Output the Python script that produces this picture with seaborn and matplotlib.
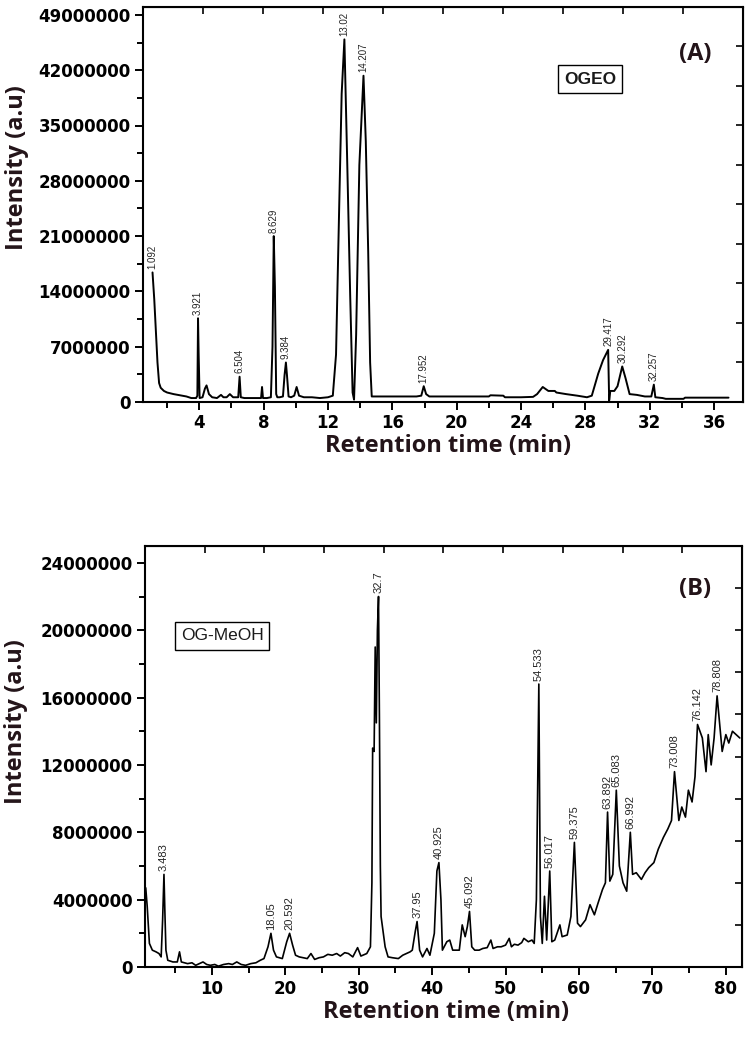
import matplotlib
matplotlib.use('Agg')
import numpy as np
import pandas as pd
import seaborn as sns
import matplotlib.pyplot as plt
from matplotlib.ticker import MultipleLocator, FuncFormatter

# (A) OGEO - retention time (min) and intensity (millions, a.u)
a_time = [1.092, 1.12, 1.2, 1.3, 1.4, 1.5, 1.6, 1.8, 2.0, 2.4, 2.8, 3.2, 3.5, 3.8, 3.88,
          3.921, 3.96, 4.02, 4.2, 4.35, 4.45, 4.6, 4.8, 5.1, 5.35, 5.5, 5.7, 5.9, 6.1, 6.42,
          6.504, 6.58, 6.8, 7.2, 7.6, 7.84, 7.9, 7.96, 8.2, 8.45, 8.55, 8.629, 8.7, 8.78, 8.85,
          9.0, 9.2, 9.3, 9.384, 9.45, 9.55, 9.7, 9.9, 10.05, 10.2, 10.5, 11.0, 11.5, 12.0, 12.3,
          12.5, 12.7, 12.85, 13.02, 13.2, 13.38, 13.53, 13.62, 13.75, 13.95, 14.207, 14.35, 14.5,
          14.62, 14.72, 15.5, 16.5, 17.5, 17.8, 17.952, 18.1, 18.3, 19.0, 20.0, 21.0, 22.0, 22.1,
          22.9, 23.0, 24.0, 24.75, 25.0, 25.35, 25.7, 26.1, 26.2, 26.8, 27.5, 28.1, 28.4, 28.8,
          29.1, 29.417, 29.48, 29.55, 29.8, 30.0, 30.292, 30.5, 30.75, 31.2, 31.7, 32.1, 32.257,
          32.35, 32.8, 33.0, 34.1, 34.2, 35.0, 36.0, 36.9]
a_int = [16.4, 15.5, 13.0, 9.0, 5.0, 2.4, 1.8, 1.4, 1.2, 1.0, 0.85, 0.7, 0.5, 0.5, 0.8,
         10.6, 6.0, 0.5, 0.6, 1.7, 2.1, 1.0, 0.6, 0.5, 0.9, 0.6, 0.6, 1.0, 0.6, 0.6,
         3.2, 0.6, 0.5, 0.5, 0.5, 0.5, 1.9, 0.5, 0.5, 0.6, 7.0, 21.0, 14.6, 1.0, 0.6,
         0.6, 0.7, 3.4, 5.0, 3.4, 0.7, 0.6, 0.8, 1.9, 0.8, 0.6, 0.6, 0.5, 0.6, 0.8,
         6.0, 25.0, 39.0, 45.9, 30.0, 13.5, 1.2, 0.3, 8.5, 30.0, 41.3, 33.0, 19.0,
         5.0, 0.7, 0.7, 0.7, 0.7, 0.8, 2.0, 1.0, 0.7, 0.7, 0.7, 0.7, 0.7, 0.85,
         0.8, 0.6, 0.6, 0.65, 1.0, 1.9, 1.4, 1.4, 1.2, 1.0, 0.8, 0.6, 0.8, 3.6,
         5.3, 6.6, 0.2, 1.4, 1.4, 2.0, 4.5, 3.0, 1.0, 0.9, 0.7, 0.7, 2.2,
         0.6, 0.5, 0.4, 0.4, 0.55, 0.55, 0.55, 0.55]
a_peaks = [1.092, 3.921, 6.504, 8.629, 9.384, 13.02, 14.207, 17.952, 29.417, 30.292, 32.257]

# (B) OG-MeOH
b_time = [1.0, 1.2, 1.35, 1.5, 1.9, 2.4, 2.8, 3.1, 3.3, 3.483, 3.6, 3.75, 4.0, 4.7, 5.3,
          5.6, 5.85, 6.7, 7.3, 7.8, 8.3, 8.8, 9.3, 9.8, 10.4, 10.9, 11.6, 12.3, 12.8, 13.4,
          14.0, 14.6, 15.3, 16.0, 16.6, 17.1, 17.65, 18.05, 18.4, 18.8, 19.6, 20.2, 20.592,
          21.0, 21.4, 21.9, 23.0, 23.5, 24.0, 24.6, 25.2, 25.8, 26.4, 27.0, 27.5, 28.1, 28.6,
          29.2, 29.85, 30.3, 31.1, 31.6, 31.8, 31.9, 32.1, 32.25, 32.4, 32.55, 32.7, 32.82,
          32.95, 33.05, 33.3, 33.6, 34.0, 34.6, 35.4, 36.0, 36.5, 37.0, 37.3, 37.7, 37.95,
          38.3, 38.7, 39.3, 39.7, 40.3, 40.65, 40.925, 41.2, 41.4, 42.0, 42.4, 42.8, 43.7,
          44.1, 44.5, 44.8, 45.092, 45.4, 45.8, 46.4, 46.9, 47.5, 48.0, 48.3, 48.9, 49.4,
          50.0, 50.5, 50.8, 51.2, 51.7, 52.2, 52.5, 53.1, 53.6, 53.9, 54.2, 54.533, 54.75,
          55.0, 55.3, 55.6, 56.017, 56.3, 56.7, 57.4, 57.7, 58.4, 58.9, 59.375, 59.8, 60.2,
          60.9, 61.5, 62.1, 62.6, 63.2, 63.6, 63.892, 64.2, 64.6, 65.083, 65.5, 66.0, 66.5,
          66.992, 67.3, 67.8, 68.5, 69.0, 69.5, 70.2, 70.8, 71.5, 72.1, 72.6, 73.008, 73.6,
          74.0, 74.5, 74.9, 75.4, 75.8, 76.142, 76.8, 77.3, 77.6, 78.0, 78.4, 78.808, 79.5,
          80.0, 80.4, 80.9, 81.4, 81.9]
b_int = [4.7, 3.6, 2.5, 1.4, 1.0, 0.9, 0.8, 0.6, 2.8, 5.5, 3.4, 1.0, 0.4, 0.3, 0.3,
         0.9, 0.3, 0.2, 0.25, 0.1, 0.2, 0.3, 0.15, 0.1, 0.15, 0.05, 0.15, 0.2, 0.15, 0.3,
         0.15, 0.1, 0.2, 0.25, 0.4, 0.5, 1.2, 2.0, 1.0, 0.6, 0.5, 1.5, 2.0,
         1.3, 0.7, 0.6, 0.5, 0.8, 0.45, 0.55, 0.6, 0.75, 0.7, 0.8, 0.65, 0.85, 0.8,
         0.6, 1.15, 0.65, 0.8, 1.2, 5.0, 13.0, 12.8, 19.0, 14.5, 20.0, 22.0, 15.0,
         6.0, 3.0, 2.2, 1.2, 0.6, 0.55, 0.5, 0.7, 0.8, 0.9, 1.0, 2.1, 2.7,
         1.0, 0.6, 1.1, 0.7, 2.0, 5.7, 6.2, 4.0, 1.0, 1.5, 1.6, 1.0, 1.0,
         2.5, 1.8, 2.4, 3.3, 1.2, 1.0, 1.0, 1.1, 1.15, 1.6, 1.1, 1.2, 1.2,
         1.3, 1.7, 1.2, 1.35, 1.3, 1.45, 1.7, 1.5, 1.6, 1.4, 4.0, 16.8, 3.0,
         1.4, 4.2, 1.6, 5.7, 1.5, 1.6, 2.5, 1.8, 1.9, 3.0, 7.4, 2.6, 2.4,
         2.8, 3.7, 3.1, 3.8, 4.6, 5.0, 9.2, 5.1, 5.5, 10.5, 6.0, 5.0, 4.5,
         8.0, 5.5, 5.6, 5.2, 5.6, 5.9, 6.2, 7.0, 7.7, 8.2, 8.7, 11.6, 8.7,
         9.5, 8.9, 10.5, 9.8, 11.3, 14.4, 13.6, 11.6, 13.8, 12.0, 13.6, 16.1, 12.8,
         13.8, 13.3, 14.0, 13.8, 13.6]
b_peaks = [3.483, 18.05, 20.592, 32.7, 37.95, 40.925, 45.092, 54.533, 56.017, 59.375,
           63.892, 65.083, 66.992, 73.008, 76.142, 78.808]

sns.set_style('ticks')
plt.rcParams['font.family'] = ['DejaVu Sans']
plt.rcParams['font.weight'] = 'bold'
ink = '#231419'
W, H = 750, 1039

fig = plt.figure(figsize=(7.5, 10.39), dpi=100)
ax_a = fig.add_axes([143 / W, 1 - 402 / H, 600 / W, 395 / H])
ax_b = fig.add_axes([145 / W, 1 - 967 / H, 597 / W, 421 / H])


def panel(ax, t, y, peaks, xlim, ylim, xmaj, ymaj, lw, lab_size):
    df = pd.DataFrame({'t': t, 'I': np.array(y) * 1e6})
    sns.lineplot(data=df, x='t', y='I', ax=ax, color='black', lw=lw,
                 estimator=None, sort=False)
    apex = dict(zip(t, y))
    for p in peaks:
        ax.annotate(f'{p:g}', xy=(p, apex[p] * 1e6), xytext=(0, 2.5),
                    textcoords='offset points', rotation=90, ha='center',
                    va='bottom', fontsize=lab_size, fontweight='normal',
                    family='Liberation Sans', annotation_clip=False)
    ax.set_xlim(*xlim)
    ax.set_ylim(*ylim)
    ax.set_xlabel('')
    ax.set_ylabel('')
    ax.xaxis.set_major_locator(MultipleLocator(xmaj))
    ax.xaxis.set_minor_locator(MultipleLocator(xmaj / 2))
    ax.yaxis.set_major_locator(MultipleLocator(ymaj))
    ax.yaxis.set_minor_locator(MultipleLocator(ymaj / 2))
    ax.yaxis.set_major_formatter(FuncFormatter(lambda v, _: f'{v:.0f}'))
    ax.tick_params(which='both', direction='out', width=1.4, labelsize=12,
                   pad=3, colors='black')
    ax.tick_params(which='major', length=6)
    ax.tick_params(which='minor', length=4)
    for s in ax.spines.values():
        s.set_linewidth(1.5)
        s.set_color('black')
    top = ax.secondary_xaxis('top')
    top.set_xticks(np.linspace(xlim[0], xlim[1], 11)[1:-1])
    top.tick_params(direction='in', length=5, width=1.4, labeltop=False)
    right = ax.secondary_yaxis('right')
    right.set_yticks(np.linspace(ylim[0], ylim[1], 11)[1:-1])
    right.tick_params(direction='in', length=5, width=1.4, labelright=False)


panel(ax_a, a_time, a_int, a_peaks, (0.5, 37.8), (0, 50e6), 4, 7e6, 1.4, 7)
panel(ax_b, b_time, b_int, b_peaks, (0.9, 82.2), (0, 25e6), 10, 4e6, 1.2, 8)


def fx(px):
    return px / W


def fy(py):
    return 1 - py / H


lab = dict(family=['Open Sans', 'DejaVu Sans'], fontsize=17, fontweight='bold', color=ink)
fig.text(fx(448), fy(446), 'Retention time (min)', ha='center', va='center', **lab)
fig.text(fx(446), fy(1012), 'Retention time (min)', ha='center', va='center', **lab)
fig.text(fx(17), fy(168), 'Intensity (a.u)', rotation=90, ha='center', va='center', **lab)
fig.text(fx(16), fy(722), 'Intensity (a.u)', rotation=90, ha='center', va='center', **lab)
fig.text(fx(695), fy(54), '(A)', ha='center', va='center', **lab)
fig.text(fx(695), fy(589), '(B)', ha='center', va='center', **lab)

box = dict(boxstyle='square,pad=0.35', fc='white', ec='black', lw=1.0)
fig.text(fx(590), fy(79), 'OGEO', ha='center', va='center', fontsize=12.5,
         fontweight='bold', family='Liberation Sans', color='#1a1a1a', bbox=box)
fig.text(fx(222), fy(636), 'OG-MeOH', ha='center', va='center', fontsize=12.5,
         fontweight='normal', family='Liberation Sans', color='#1a1a1a', bbox=box)

fig.savefig('out.png', dpi=100)
